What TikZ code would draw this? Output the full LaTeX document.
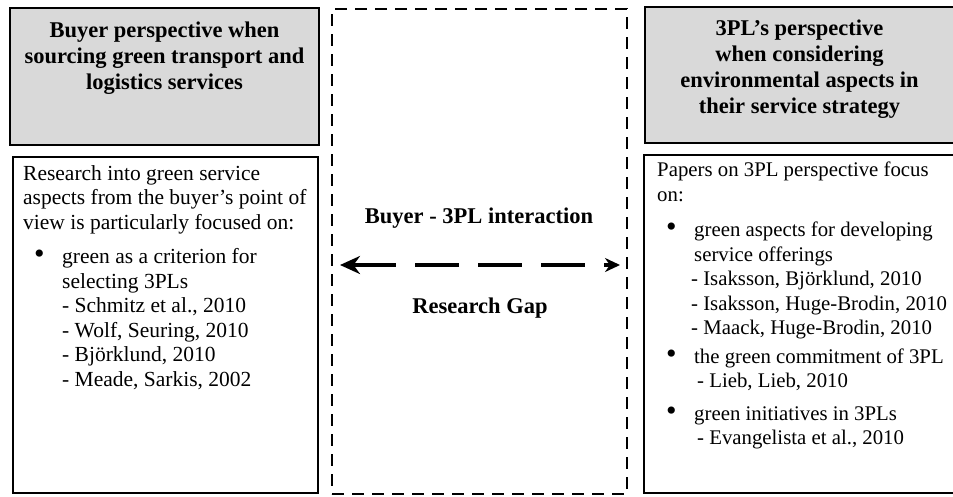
\documentclass[tikz,border=0pt]{standalone}
\usepackage{fontspec}
\setmainfont{Liberation Serif}
\usepackage{xcolor}
\usetikzlibrary{positioning,arrows.meta}
\definecolor{headgray}{HTML}{D9D9D9}

\begin{document}
\begin{tikzpicture}[x=1pt,y=-1pt,
    headbox/.style={draw, line width=1.3pt, fill=headgray, inner sep=0pt},
    bodybox/.style={draw, line width=1.1pt, inner sep=0pt},
    headtxt/.style={align=center, inner sep=0pt, font=\fontsize{22.5}{26}\selectfont\bfseries},
    bodytxt/.style={align=left, inner sep=0pt, anchor=north west, font=\fontsize{21.5}{24.5}\selectfont},
    gaptxt/.style={inner sep=0pt, font=\fontsize{22.5}{24}\selectfont\bfseries}]
    \useasboundingbox (0,0) rectangle (953,496);

    \node[headbox, minimum width=309pt, minimum height=137pt] (buyhead) at (164.5,76.5) {};
    \node[bodybox, minimum width=305pt, minimum height=336pt] (buybody) at (165.5,325) {};
    % right column runs past the page edge
    \node[headbox, minimum width=315pt, minimum height=136pt] (plhead) at (802.5,75) {};
    \node[bodybox, minimum width=316pt, minimum height=338pt] (plbody) at (802,324) {};
    \node[draw, line width=2.6pt, dash pattern=on 12pt off 8pt, minimum width=295pt, minimum height=485pt, inner sep=0pt] (gap) at (479.5,251.5) {};

    \node[headtxt, below=14pt of buyhead.north] (buytitle) {Buyer perspective when\\sourcing green transport and\\logistics services};
    \node[headtxt, below=13pt of plhead.north, xshift=-3pt] (pltitle) {3PL’s perspective\\when considering\\environmental aspects in\\their service strategy};

    \node[bodytxt] (buytext) at (23,165) {Research into green service\\
        aspects from the buyer’s point of\\
        view is particularly focused on:\\[10pt]
        \hspace*{11pt}\makebox[28pt][l]{\fontsize{30}{24}\selectfont\textbullet}green as a criterion for\\
        \hspace*{39pt}selecting 3PLs\\
        \hspace*{39pt}- Schmitz et al., 2010\\
        \hspace*{39pt}- Wolf, Seuring, 2010\\
        \hspace*{39pt}- Björklund, 2010\\
        \hspace*{39pt}- Meade, Sarkis, 2002};
    \node[bodytxt, font=\fontsize{20.8}{24.5}\selectfont] (pltext) at (657,162) {Papers on 3PL perspective focus\\
        on:\\[11pt]
        \hspace*{9pt}\makebox[28pt][l]{\fontsize{30}{24}\selectfont\textbullet}green aspects for developing\\
        \hspace*{37pt}service offerings\\
        \hspace*{34pt}- Isaksson, Björklund, 2010\\
        \hspace*{34pt}- Isaksson, Huge-Brodin, 2010\\
        \hspace*{34pt}- Maack, Huge-Brodin, 2010\\[4pt]
        \hspace*{9pt}\makebox[28pt][l]{\fontsize{30}{24}\selectfont\textbullet}the green commitment of 3PL\\
        \hspace*{40pt}- Lieb, Lieb, 2010\\[8pt]
        \hspace*{9pt}\makebox[28pt][l]{\fontsize{30}{24}\selectfont\textbullet}green initiatives in 3PLs\\
        \hspace*{40pt}- Evangelista et al., 2010};

    \node[gaptxt] (inter) at (479,218) {Buyer - 3PL interaction};
    \node[gaptxt] (gaplabel) at (480,308) {Research Gap};

    \coordinate (arrL) at (340,265);
    \coordinate (arrR) at (620,265);
    \draw[line width=4.5pt, dash pattern=on 44pt off 19pt,
        {Stealth[length=20pt,width=18pt]}-{Stealth[length=15pt,width=14pt]}] (arrL) -- (arrR);
\end{tikzpicture}
\end{document}
